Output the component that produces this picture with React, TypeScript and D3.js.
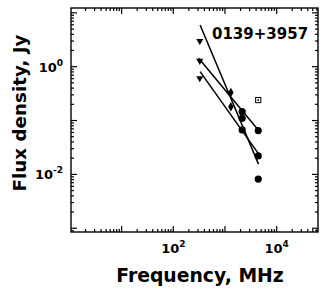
import React from 'react';
import * as d3 from 'd3';

// measured points (MHz, Jy)
const triFreq = [325, 325, 325];
const triFlux = [3.0, 1.28, 0.61];
const diaFreq = [1300, 1300];
const diaFlux = [0.33, 0.18];
const circFreq = [2150, 2150, 2150, 4400, 4400, 4400];
const circFlux = [0.146, 0.11, 0.067, 0.065, 0.022, 0.0082];
const sqFreq = [4400];
const sqFlux = [0.24];

// fitted spectra: endpoints
const fitFreq = [[330, 4450], [310, 4400], [330, 4400]];
const fitFlux = [[5.96, 0.0155], [1.43, 0.0666], [0.81, 0.0245]];

const xLabelExp = [2, 4];
const yLabelExp = [0, -2];
const sourceName = '0139+3957';

const W = 327;
const H = 297;
const L = 71, R = 318, T = 8, B = 232;
const font = 'DejaVu Sans, sans-serif';

export default function App() {
  const x = d3.scaleLog().domain([Math.pow(10, 0.02), Math.pow(10, 4.8)]).range([L, R]);
  const y = d3.scaleLog().domain([Math.pow(10, 1.09), Math.pow(10, -3.07)]).range([T, B]);

  const ticks: JSX.Element[] = [];
  // x ticks
  for (let e = 0; e <= 4; e++) {
    for (let m = 1; m <= 9; m++) {
      const v = m * Math.pow(10, e);
      const px = x(v);
      if (px < L + 0.5 || px > R - 0.5) continue;
      const len = m === 1 ? 6 : 3;
      ticks.push(<line key={`xb${e}${m}`} x1={px} x2={px} y1={B} y2={B - len} />);
      ticks.push(<line key={`xt${e}${m}`} x1={px} x2={px} y1={T} y2={T + len} />);
    }
  }
  // y ticks
  for (let e = -4; e <= 1; e++) {
    for (let m = 1; m <= 9; m++) {
      const v = m * Math.pow(10, e);
      const py = y(v);
      if (py < T + 0.5 || py > B - 0.5) continue;
      const len = m === 1 ? 6 : 3;
      ticks.push(<line key={`yl${e}${m}`} x1={L} x2={L + len} y1={py} y2={py} />);
      ticks.push(<line key={`yr${e}${m}`} x1={R} x2={R - len} y1={py} y2={py} />);
    }
  }

  const line = d3.line<[number, number]>().x((d) => x(d[0])).y((d) => y(d[1]));
  const tri = d3.symbol().type(d3.symbolTriangle).size(22);
  const dia = d3.symbol().type(d3.symbolDiamond).size(26);

  return (
    <svg width={W} height={H} style={{ position: 'absolute', left: 0, top: 0, background: '#fff' }}>
      <rect x={0} y={0} width={W} height={H} fill="#fff" />
      <g stroke="#000" strokeWidth={1.2}>{ticks}</g>
      <rect x={L} y={T} width={R - L} height={B - T} fill="none" stroke="#000" strokeWidth={1.4} />

      {fitFreq.map((f, i) => (
        <path key={`fit${i}`} d={line([[f[0], fitFlux[i][0]], [f[1], fitFlux[i][1]]]) || ''}
          fill="none" stroke="#000" strokeWidth={1.5} />
      ))}

      {triFreq.map((f, i) => (
        <path key={`tri${i}`} d={tri() || ''}
          transform={`translate(${x(f)},${y(triFlux[i])}) rotate(180)`} fill="#000" />
      ))}
      {diaFreq.map((f, i) => (
        <path key={`dia${i}`} d={dia() || ''}
          transform={`translate(${x(f)},${y(diaFlux[i])})`} fill="#000" />
      ))}
      {circFreq.map((f, i) => (
        <circle key={`c${i}`} cx={x(f)} cy={y(circFlux[i])} r={3.6} fill="#000" />
      ))}
      {sqFreq.map((f, i) => (
        <g key={`sq${i}`}>
          <rect x={x(f) - 2.6} y={y(sqFlux[i]) - 2.6} width={5.2} height={5.2} fill="none" stroke="#000" strokeWidth={1} />
          <rect x={x(f) - 0.8} y={y(sqFlux[i]) - 0.8} width={1.6} height={1.6} fill="#000" />
        </g>
      ))}

      <text x={212} y={39} fontFamily={font} fontWeight="bold" fontSize={15} fill="#000">{sourceName}</text>

      {xLabelExp.map((e) => (
        <text key={`xl${e}`} x={x(Math.pow(10, e))} y={253} fontFamily={font} fontWeight="bold"
          fontSize={13} textAnchor="middle" fill="#000">
          10<tspan dy={-6} fontSize={9}>{e}</tspan>
        </text>
      ))}
      {yLabelExp.map((e) => (
        <text key={`yl${e}`} x={63} y={y(Math.pow(10, e)) + 5} fontFamily={font} fontWeight="bold"
          fontSize={13} textAnchor="end" fill="#000">
          10<tspan dy={-6} fontSize={9}>{e}</tspan>
        </text>
      ))}

      <text x={200} y={282} fontFamily={font} fontWeight="bold" fontSize={18.8} textAnchor="middle" fill="#000">
        Frequency, MHz
      </text>
      <text transform="translate(26,113) rotate(-90)" fontFamily={font} fontWeight="bold" fontSize={18.3}
        textAnchor="middle" fill="#000">
        Flux density, Jy
      </text>
    </svg>
  );
}
